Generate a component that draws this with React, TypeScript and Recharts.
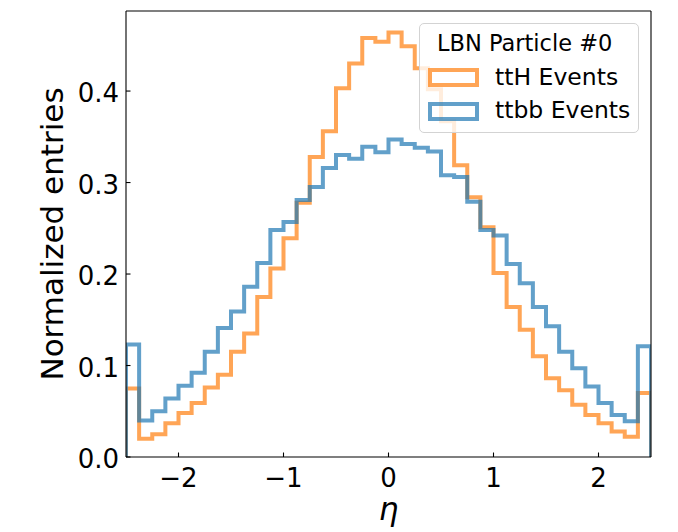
import React from "react";
import { LineChart, Line, XAxis, YAxis, ReferenceLine, Legend } from "recharts";

// histogram binning: 40 bins of width 0.125 over [-2.5, 2.5]
const ETA_MIN = -2.5;
const ETA_MAX = 2.5;
const N_BINS = 40;

// normalized entries per bin
const ttH = [
  0.075, 0.02, 0.025, 0.037, 0.048, 0.059, 0.076, 0.09, 0.115, 0.135,
  0.175, 0.206, 0.239, 0.278, 0.328, 0.356, 0.403, 0.43, 0.458, 0.454,
  0.464, 0.449, 0.425, 0.402, 0.367, 0.319, 0.284, 0.251, 0.201, 0.164,
  0.139, 0.11, 0.086, 0.073, 0.057, 0.046, 0.037, 0.028, 0.022, 0.07,
];
const ttbb = [
  0.123, 0.04, 0.05, 0.064, 0.078, 0.092, 0.115, 0.141, 0.159, 0.186,
  0.212, 0.248, 0.257, 0.281, 0.295, 0.316, 0.33, 0.326, 0.339, 0.333,
  0.347, 0.342, 0.338, 0.334, 0.308, 0.306, 0.279, 0.248, 0.242, 0.211,
  0.19, 0.164, 0.143, 0.115, 0.097, 0.077, 0.059, 0.046, 0.039, 0.121,
];

const xTicks = [-2, -1, 0, 1, 2];
const yTicks = [0, 0.1, 0.2, 0.3, 0.4];
const Y_MAX = 0.4875;

const legendTitle = "LBN Particle #0";
const seriesNames = ["ttH Events", "ttbb Events"];
const seriesColors = ["#ff7f0e", "#1f77b4"];

const FONT = "'DejaVu Sans', sans-serif";

// turn bin contents into step outline points (like histtype="step")
const toSteps = (values: number[]) => {
  const width = (ETA_MAX - ETA_MIN) / N_BINS;
  const pts = [{ x: ETA_MIN, y: 0 }];
  values.forEach((v, i) => pts.push({ x: ETA_MIN + i * width, y: v }));
  pts.push({ x: ETA_MAX, y: values[values.length - 1] });
  pts.push({ x: ETA_MAX, y: 0 });
  return pts;
};

const fmtX = (v: number) => (v < 0 ? `\u2212${Math.abs(v)}` : `${v}`);

const XTick = (props: any) => {
  const { x, y, payload } = props;
  return (
    <g>
      <line x1={x} x2={x} y1={y} y2={y - 4.5} stroke="#000" strokeWidth={1.1} />
      <text x={x} y={y + 29.5} textAnchor="middle" fontSize={26} fontFamily={FONT} fill="#000">
        {fmtX(payload.value)}
      </text>
    </g>
  );
};

const YTick = (props: any) => {
  const { x, y, payload } = props;
  return (
    <g>
      <line x1={x} x2={x + 4.5} y1={y} y2={y} stroke="#000" strokeWidth={1.1} />
      <text x={x - 7} y={y + 11} textAnchor="end" fontSize={26} fontFamily={FONT} fill="#000">
        {payload.value.toFixed(1)}
      </text>
    </g>
  );
};

const YLabel = (props: any) => {
  const vb = props.viewBox || { x: 0, y: 11, width: 126, height: 446 };
  const cx = vb.x + 63;
  const cy = vb.y + vb.height / 2;
  return (
    <text
      x={cx}
      y={cy}
      transform={`rotate(-90 ${cx} ${cy})`}
      textAnchor="middle"
      fontSize={31}
      fontFamily={FONT}
      fill="#000"
    >
      Normalized entries
    </text>
  );
};

const XLabel = (props: any) => {
  const vb = props.viewBox || { x: 126, y: 457, width: 525, height: 75 };
  return (
    <text
      x={vb.x + vb.width / 2}
      y={vb.y + 63}
      textAnchor="middle"
      fontSize={31}
      fontStyle="italic"
      fontFamily={FONT}
      fill="#000"
    >
      η
    </text>
  );
};

const LegendBox = () => (
  <div
    style={{
      position: "relative",
      width: 220,
      height: 110,
      boxSizing: "border-box",
      border: "1px solid #d3d3d3",
      borderRadius: 5,
      background: "rgba(255,255,255,0.8)",
      fontFamily: FONT,
      color: "#000",
      textAlign: "left",
    }}
  >
    <div
      style={{
        position: "absolute",
        left: 17,
        top: 6,
        fontSize: 22.5,
        lineHeight: "27px",
        whiteSpace: "nowrap",
      }}
    >
      {legendTitle}
    </div>
    {seriesNames.map((name, i) => (
      <div key={name}>
        <div
          style={{
            position: "absolute",
            left: 8,
            top: 44 + i * 34,
            width: 51,
            height: 19,
            boxSizing: "border-box",
            border: `4px solid ${seriesColors[i]}`,
            opacity: 0.7,
          }}
        />
        <div
          style={{
            position: "absolute",
            left: 75,
            top: 39 + i * 33,
            fontSize: 23.5,
            lineHeight: "28px",
            whiteSpace: "nowrap",
          }}
        >
          {name}
        </div>
      </div>
    ))}
  </div>
);

export default function App() {
  const series = [ttH, ttbb];
  return (
    <div style={{ position: "absolute", left: 0, top: 0, width: 678, height: 532, background: "#fff" }}>
      <LineChart width={678} height={532} margin={{ top: 11, right: 27, bottom: 0, left: 0 }}>
        <XAxis
          dataKey="x"
          type="number"
          domain={[ETA_MIN, ETA_MAX]}
          ticks={xTicks}
          allowDataOverflow
          height={75}
          tickSize={0}
          tickMargin={0}
          tickLine={false}
          axisLine={{ stroke: "#000", strokeWidth: 1.1 }}
          tick={<XTick />}
          label={{ content: <XLabel /> }}
        />
        <YAxis
          type="number"
          domain={[0, Y_MAX]}
          ticks={yTicks}
          allowDataOverflow
          width={126}
          tickSize={0}
          tickMargin={0}
          tickLine={false}
          axisLine={{ stroke: "#000", strokeWidth: 1.1 }}
          tick={<YTick />}
          label={{ content: <YLabel /> }}
        />
        {series.map((vals, i) => (
          <Line
            key={seriesNames[i]}
            data={toSteps(vals)}
            dataKey="y"
            name={seriesNames[i]}
            type="stepAfter"
            stroke={seriesColors[i]}
            strokeOpacity={0.7}
            strokeWidth={4}
            strokeLinejoin="miter"
            dot={false}
            activeDot={false}
            isAnimationActive={false}
          />
        ))}
        <ReferenceLine y={Y_MAX} stroke="#000" strokeWidth={1.1} />
        <ReferenceLine x={ETA_MAX} stroke="#000" strokeWidth={1.1} />
        <Legend
          layout="vertical"
          align="center"
          verticalAlign="middle"
          content={<LegendBox />}
          wrapperStyle={{ position: "absolute", left: 419, top: 23, width: 220, height: 110 }}
        />
      </LineChart>
    </div>
  );
}
